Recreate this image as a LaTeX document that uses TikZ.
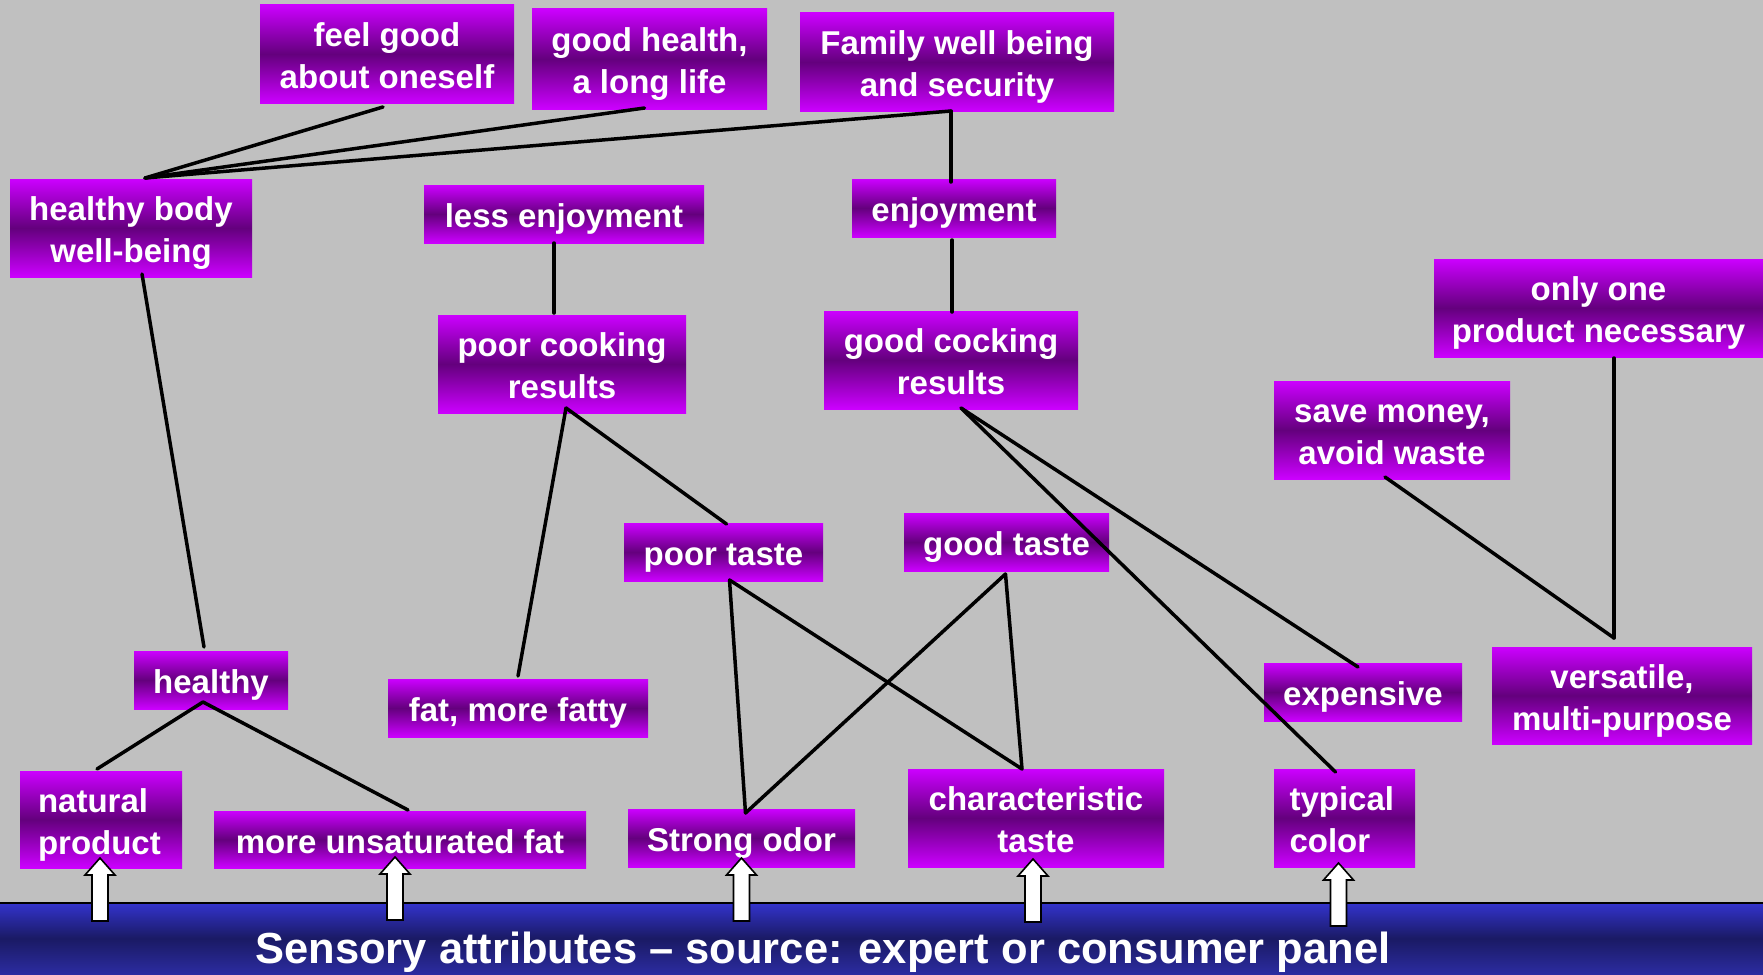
\documentclass[tikz,border=0pt]{standalone}
\usepackage{fontspec}
\setmainfont{Liberation Sans}
\usetikzlibrary{calc}
\definecolor{bggray}{RGB}{192,192,192}
\definecolor{mtop}{RGB}{204,0,255}
\definecolor{mmid}{RGB}{100,0,125}
\definecolor{btop}{RGB}{51,51,204}
\definecolor{bmid}{RGB}{26,26,100}
\definecolor{bbot}{RGB}{44,44,160}
\newcommand\ps{\vrule height 34.9pt depth 7pt width 0pt}
\newcommand\blockup[1]{\draw[uparrow] (#1) -- ++(15,17) -- ++(-7,0) -- ++(0,46) -- ++(-16,0) -- ++(0,-46) -- ++(-7,0) -- cycle;}
\begin{document}
\begin{tikzpicture}[x=1pt,y=-1pt,
  box/.style={inner sep=0pt, outer sep=0pt, top color=mtop, bottom color=mtop, middle color=mmid,
    text=white, font=\fontsize{33}{42}\selectfont\bfseries, align=center},
  link/.style={line width=3.5pt, line cap=round, draw=black},
  uparrow/.style={fill=white, draw=black, line width=1.6pt, line join=miter},
  bartxt/.style={text=white, font=\fontsize{43.5}{50}\selectfont\bfseries, inner sep=0pt}
]
\useasboundingbox (0,0) rectangle (1763,974);
\fill[bggray] (0,0) rectangle (1763,974);
% bottom bar
\node[inner sep=0pt, outer sep=0pt, minimum width=1763pt, minimum height=71pt, anchor=north west,
  top color=btop, bottom color=bbot, middle color=bmid] (bar) at (0,903) {};
\draw[line width=1.5pt] (bar.north west) -- (bar.north east);
\node[bartxt, anchor=base] (bartext) at (823,963) {Sensory attributes – source: expert or consumer panel};

% nodes
\node[box, minimum width=254pt, minimum height=98pt] (feelgood) at (387,54) {\ps feel good\\\ps about oneself};
\node[box, minimum width=235pt, minimum height=100pt] (goodhealth) at (649.5,59) {\ps good health,\\\ps a long life};
\node[box, minimum width=314pt, minimum height=98pt] (family) at (957,62) {\ps Family well being\\\ps and security};
\node[box, minimum width=242pt, minimum height=98pt] (hbody) at (131,228) {\ps healthy body\\\ps well-being};
\node[box, minimum width=280pt, minimum height=58pt] (lessenj) at (564,214) {\ps less enjoyment};
\node[box, minimum width=204pt, minimum height=58pt] (enj) at (954,208) {\ps enjoyment};
\node[box, minimum width=329pt, minimum height=98pt] (onlyone) at (1598.5,308) {\ps only one\\\ps product necessary};
\node[box, minimum width=248pt, minimum height=98pt] (poorcook) at (562,364) {\ps poor cooking\\\ps results};
\node[box, minimum width=254pt, minimum height=98pt] (goodcock) at (951,360) {\ps good cocking\\\ps results};
\node[box, minimum width=236pt, minimum height=98pt] (savemoney) at (1392,430) {\ps save money,\\\ps avoid waste};
\node[box, minimum width=199pt, minimum height=58pt] (poortaste) at (723.5,552) {\ps poor taste};
\node[box, minimum width=205pt, minimum height=58pt] (goodtaste) at (1006.5,542) {\ps good taste};
\node[box, minimum width=154pt, minimum height=58pt] (healthy) at (211,680) {\ps healthy};
\node[box, minimum width=260pt, minimum height=58pt] (fat) at (518,708) {\ps fat, more fatty};
\node[box, minimum width=198pt, minimum height=58pt] (expensive) at (1363,692) {\ps expensive};
\node[box, minimum width=260pt, minimum height=97pt] (versatile) at (1622,695.5) {\ps versatile,\\\ps multi-purpose};
\node[box, minimum width=162pt, minimum height=97pt, text width=126pt, align=left] (natural) at (101,819.5) {\ps natural\\\ps product};
\node[box, minimum width=372pt, minimum height=57pt] (unsat) at (400,839.5) {\ps more unsaturated fat};
\node[box, minimum width=227pt, minimum height=58pt] (strong) at (741.5,838) {\ps Strong odor};
\node[box, minimum width=256pt, minimum height=98pt] (chartaste) at (1036,818) {\ps characteristic\\\ps taste};
\node[box, minimum width=141pt, minimum height=98pt, text width=110pt, align=left] (typical) at (1344.5,818) {\ps typical\\\ps color};

% connectors
\coordinate (H1) at ($(hbody.north)+(14,-1)$);
\draw[link] ($(feelgood.south)+(-4,4)$) -- (H1);
\draw[link] ($(goodhealth.south)+(-5,-1)$) -- (H1);
\coordinate (famhub) at ($(family.south)+(-6,0)$);
\draw[link] (famhub) -- (H1);
\draw[link] (famhub) -- ($(enj.north)+(-3,3)$);
\draw[link] ($(enj.south)+(-2,3)$) -- ($(goodcock.north)+(1,1)$);
\draw[link] ($(lessenj.south)+(-10,0)$) -- ($(poorcook.north)+(-8,-2)$);
\draw[link] ($(hbody.south)+(11,-3)$) -- ($(healthy.north)+(-7,-4)$);
\coordinate (hhub) at ($(healthy.south)+(-8,-7)$);
\draw[link] (hhub) -- ($(natural.north)+(-4,-2)$);
\draw[link] (hhub) -- ($(unsat.north)+(8,-1)$);
\coordinate (pchub) at ($(poorcook.south)+(4,-5)$);
\draw[link] (pchub) -- ($(fat.north)+(0,-3)$);
\draw[link] (pchub) -- ($(poortaste.north)+(3,1)$);
\coordinate (gchub) at ($(goodcock.south)+(10,-1)$);
\draw[link] (gchub) -- ($(expensive.north)+(-5,4)$);
\draw[link] (gchub) -- ($(typical.north)+(-9,3)$);
\coordinate (pthub) at ($(poortaste.south)+(6,-1)$);
\coordinate (gthub) at ($(goodtaste.south)+(-1,3)$);
\coordinate (sohub) at ($(strong.north)+(4,4)$);
\coordinate (cthub) at ($(chartaste.north)+(-14,0)$);
\draw[link] (pthub) -- (sohub);
\draw[link] (pthub) -- (cthub);
\draw[link] (gthub) -- (sohub);
\draw[link] (gthub) -- (cthub);
\coordinate (vhub) at ($(versatile.north)+(-8,-9)$);
\draw[link] ($(savemoney.south)+(-7,-2)$) -- (vhub);
\draw[link] ($(onlyone.south)+(15.5,1)$) -- (vhub);

% block arrows from the bar
\coordinate (a1) at ($(natural.south)+(-1,-10)$);
\coordinate (a2) at ($(unsat.south)+(-5,-11)$);
\coordinate (a3) at ($(strong.south)+(0,-9)$);
\coordinate (a4) at ($(chartaste.south)+(-3,-8)$);
\coordinate (a5) at ($(typical.south)+(-6,-4)$);
\blockup{a1}
\blockup{a2}
\blockup{a3}
\blockup{a4}
\blockup{a5}
\end{tikzpicture}
\end{document}
